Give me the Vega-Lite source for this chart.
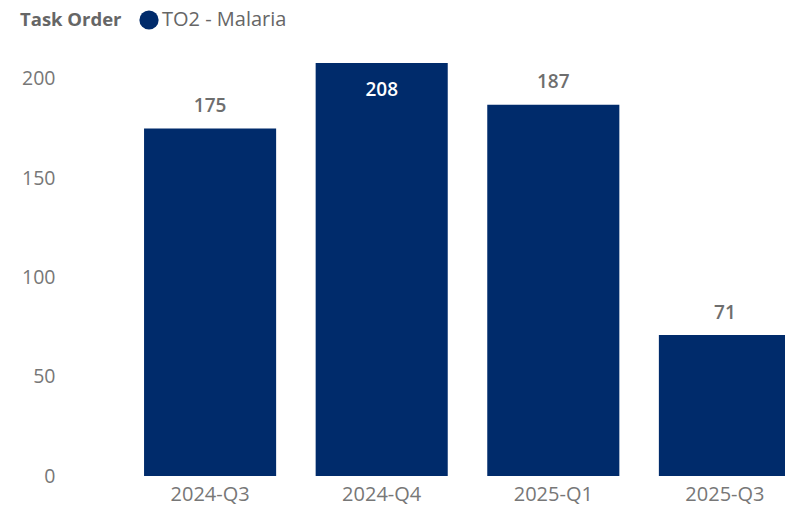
{
  "$schema": "https://vega.github.io/schema/vega-lite/v6.json",
  "autosize": "none",
  "padding": {"left": 65, "top": 63, "right": 0, "bottom": 34},
  "width": 805,
  "height": 413,
  "background": "white",
  "config": {
    "font": "Open Sans",
    "view": {"stroke": null}
  },
  "data": {
    "values": [
      {"quarter": "2024-Q3", "count": 175, "series": "TO2 - Malaria"},
      {"quarter": "2024-Q4", "count": 208, "series": "TO2 - Malaria"},
      {"quarter": "2025-Q1", "count": 187, "series": "TO2 - Malaria"},
      {"quarter": "2025-Q3", "count": 71, "series": "TO2 - Malaria"}
    ]
  },
  "encoding": {
    "x": {
      "field": "quarter",
      "type": "nominal",
      "sort": null,
      "scale": {"paddingInner": 0.2303, "paddingOuter": 0.4606},
      "axis": {
        "title": null,
        "labelAngle": 0,
        "domain": false,
        "ticks": false,
        "labelFontSize": 20,
        "labelColor": "#777777",
        "labelPadding": 8
      }
    },
    "y": {
      "field": "count",
      "type": "quantitative",
      "scale": {"domain": [0, 208], "nice": false},
      "axis": {
        "title": null,
        "values": [0, 50, 100, 150, 200],
        "domain": false,
        "ticks": false,
        "grid": false,
        "labelFontSize": 19.5,
        "labelColor": "#777777",
        "labelPadding": 10
      }
    }
  },
  "layer": [
    {
      "mark": {"type": "bar"},
      "encoding": {
        "color": {
          "field": "series",
          "type": "nominal",
          "scale": {"range": ["#002B6B"]},
          "legend": {
            "title": "Task Order",
            "orient": "none",
            "legendX": -45,
            "legendY": -53,
            "direction": "horizontal",
            "titleOrient": "left",
            "titleFontSize": 18.5,
            "titleFontWeight": "bold",
            "titleColor": "#666666",
            "titlePadding": 17,
            "labelFontSize": 20,
            "labelColor": "#666666",
            "labelOffset": 3,
            "symbolType": "circle",
            "symbolSize": 370,
            "symbolStrokeWidth": 0
          }
        }
      }
    },
    {
      "transform": [{"filter": "datum.count < 200"}],
      "mark": {"type": "text", "baseline": "alphabetic", "dy": -16.5, "fontSize": 19, "fontWeight": 600, "color": "#6E6E6E"},
      "encoding": {"text": {"field": "count", "type": "quantitative"}}
    },
    {
      "transform": [{"filter": "datum.count >= 200"}],
      "mark": {"type": "text", "baseline": "alphabetic", "dy": 33, "fontSize": 19, "fontWeight": 600, "color": "#FFFFFF"},
      "encoding": {"text": {"field": "count", "type": "quantitative"}}
    }
  ]
}
